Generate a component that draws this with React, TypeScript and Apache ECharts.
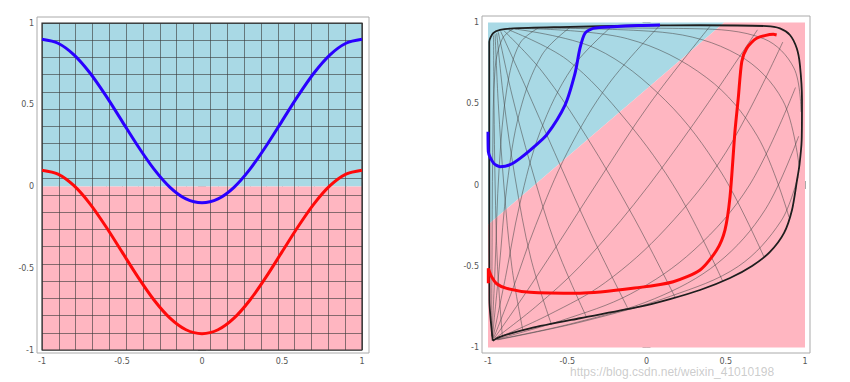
import React, { useEffect, useRef } from "react";
import * as echarts from "echarts";

// ---------- data ----------
const leftX = [-1, -0.9, -0.8, -0.7, -0.6, -0.5, -0.4, -0.3, -0.2, -0.1, 0, 0.1, 0.2, 0.3, 0.4, 0.5, 0.6, 0.7, 0.8, 0.9, 1];
const leftBlueY = [0.9, 0.876, 0.805, 0.694, 0.554, 0.4, 0.246, 0.106, -0.005, -0.076, -0.1, -0.076, -0.005, 0.106, 0.246, 0.4, 0.554, 0.694, 0.805, 0.876, 0.9];
const leftRedY = [0.1, 0.076, 0.005, -0.106, -0.246, -0.4, -0.554, -0.694, -0.805, -0.876, -0.9, -0.876, -0.805, -0.694, -0.554, -0.4, -0.246, -0.106, 0.005, 0.076, 0.1];

const tickValues = [-1, -0.5, 0, 0.5, 1];
const minorTickValues = [-1, -0.9, -0.8, -0.7, -0.6, -0.5, -0.4, -0.3, -0.2, -0.1, 0, 0.1, 0.2, 0.3, 0.4, 0.5, 0.6, 0.7, 0.8, 0.9, 1];
const meshDivisions = 19;

const leftUpperRegion = [[-1, 0], [1, 0], [1, 1], [-1, 1]];
const leftLowerRegion = [[-1, -1], [1, -1], [1, 0], [-1, 0]];
const rightBlueRegion = [[-1, 1], [0.49, 1], [-1, -0.245]];
const rightPinkRegion = [[0.49, 1], [1, 1], [1, -1], [-1, -1], [-1, -0.245]];

const rightBlueCurve = [[-1.0, 0.328], [-0.998, 0.205], [-0.965, 0.135], [-0.924, 0.113], [-0.86, 0.125], [-0.798, 0.164], [-0.71, 0.235], [-0.63, 0.308], [-0.514, 0.492], [-0.451, 0.687], [-0.42, 0.841], [-0.388, 0.934], [-0.336, 0.964], [-0.211, 0.974], [-0.05, 0.982], [0.085, 0.985]];
const rightRedCurve = [[-0.998, -0.605], [-0.998, -0.513], [-0.978, -0.563], [-0.943, -0.609], [-0.882, -0.636], [-0.735, -0.66], [-0.42, -0.666], [-0.041, -0.63], [0.169, -0.595], [0.338, -0.523], [0.443, -0.4], [0.495, -0.277], [0.527, -0.072], [0.558, 0.328], [0.579, 0.534], [0.601, 0.759], [0.632, 0.841], [0.695, 0.903], [0.8, 0.927], [0.821, 0.923]];
const meshBoundary = [[-0.97, -0.958], [-0.991, -0.708], [-0.992, -0.092], [-0.992, 0.523], [-0.992, 0.882], [-0.967, 0.934], [-0.924, 0.954], [-0.84, 0.964], [-0.546, 0.972], [-0.041, 0.982], [0.338, 0.983], [0.758, 0.978], [0.842, 0.964], [0.905, 0.923], [0.948, 0.841], [0.968, 0.738], [0.981, 0.523], [0.979, 0.277], [0.965, 0.123], [0.95, 0.031], [0.918, -0.154], [0.868, -0.295], [0.779, -0.412], [0.666, -0.498], [0.527, -0.572], [0.338, -0.646], [0.148, -0.702], [-0.041, -0.749], [-0.42, -0.82], [-0.735, -0.882], [-0.924, -0.934], [-0.97, -0.958]];

// mesh lines rising from the lower-left corner towards the top / right edges
const meshRisingLines = [
  [[-0.978, -0.93], [-0.975, -0.5], [-0.97, 0.2], [-0.955, 0.72], [-0.91, 0.9], [-0.84, 0.962]],
  [[-0.975, -0.933], [-0.955, -0.5], [-0.93, 0.1], [-0.88, 0.6], [-0.8, 0.87], [-0.68, 0.968]],
  [[-0.972, -0.936], [-0.93, -0.52], [-0.88, 0.0], [-0.8, 0.45], [-0.66, 0.8], [-0.48, 0.972]],
  [[-0.968, -0.939], [-0.89, -0.57], [-0.8, -0.12], [-0.67, 0.33], [-0.47, 0.72], [-0.22, 0.976]],
  [[-0.964, -0.941], [-0.84, -0.63], [-0.7, -0.25], [-0.5, 0.2], [-0.24, 0.62], [0.08, 0.978]],
  [[-0.96, -0.943], [-0.78, -0.69], [-0.57, -0.38], [-0.3, 0.03], [0.02, 0.5], [0.4, 0.976]],
  [[-0.956, -0.945], [-0.7, -0.75], [-0.42, -0.5], [-0.08, -0.12], [0.3, 0.38], [0.7, 0.955]],
  [[-0.952, -0.947], [-0.62, -0.8], [-0.26, -0.6], [0.12, -0.27], [0.5, 0.2], [0.86, 0.88]],
  [[-0.948, -0.949], [-0.54, -0.835], [-0.1, -0.67], [0.3, -0.4], [0.65, 0.0], [0.94, 0.6]],
  [[-0.944, -0.951], [-0.46, -0.85], [0.05, -0.7], [0.45, -0.48], [0.75, -0.15], [0.96, 0.3]],
  [[-0.94, -0.953], [-0.4, -0.84], [0.15, -0.685], [0.58, -0.5], [0.85, -0.22], [0.955, 0.05]],
];
// mesh lines falling from the upper-left corner towards the bottom / right edges
const meshFallingLines = [
  [[-0.965, 0.92], [-0.962, 0.5], [-0.955, 0.0], [-0.94, -0.5], [-0.91, -0.925]],
  [[-0.955, 0.928], [-0.935, 0.5], [-0.9, 0.0], [-0.85, -0.5], [-0.78, -0.895]],
  [[-0.945, 0.935], [-0.9, 0.52], [-0.83, 0.05], [-0.73, -0.45], [-0.6, -0.858]],
  [[-0.935, 0.94], [-0.85, 0.56], [-0.73, 0.12], [-0.57, -0.38], [-0.38, -0.81]],
  [[-0.92, 0.945], [-0.77, 0.62], [-0.58, 0.2], [-0.35, -0.3], [-0.12, -0.755]],
  [[-0.9, 0.95], [-0.66, 0.7], [-0.38, 0.3], [-0.08, -0.2], [0.18, -0.69]],
  [[-0.87, 0.955], [-0.5, 0.77], [-0.13, 0.4], [0.2, -0.05], [0.48, -0.59]],
  [[-0.83, 0.96], [-0.32, 0.84], [0.12, 0.52], [0.47, 0.08], [0.74, -0.44]],
  [[-0.78, 0.963], [-0.12, 0.9], [0.38, 0.66], [0.7, 0.3], [0.9, -0.2]],
  [[-0.72, 0.966], [0.1, 0.94], [0.58, 0.8], [0.86, 0.52], [0.965, 0.1]],
  [[-0.64, 0.968], [0.3, 0.962], [0.74, 0.9], [0.93, 0.72], [0.975, 0.45]],
];

const watermark = "https://blog.csdn.net/weixin_41010198";

// ---------- styles ----------
const LIGHT_BLUE = "#a9d9e5";
const LIGHT_PINK = "#ffb6c1";
const CURVE_BLUE = "#2a00ff";
const CURVE_RED = "#ff0a0a";
const FRAME = "#aaaaaa";
const LABEL = "#555";
const MESH = "rgba(70,70,70,0.6)";

// panel layout in pixels: frame rect + plot rect (where data -1..1 maps)
const panels = [
  { frame: { l: 37, t: 17, r: 369, b: 353 }, plot: { l: 42, t: 23, r: 362, b: 350 } },
  { frame: { l: 482, t: 16, r: 810, b: 353 }, plot: { l: 488, t: 22.5, r: 805, b: 347.5 } },
];

function frameRange(p: any) {
  const sx = (p.plot.r - p.plot.l) / 2;
  const sy = (p.plot.b - p.plot.t) / 2;
  return {
    xmin: -1 - (p.plot.l - p.frame.l) / sx,
    xmax: 1 + (p.frame.r - p.plot.r) / sx,
    ymin: -1 - (p.frame.b - p.plot.b) / sy,
    ymax: 1 + (p.plot.t - p.frame.t) / sy,
  };
}

const fmt = (v: number) => String(v);

function frameAxes(gridIndex: number, min: number, max: number, sides: string[], margin: number) {
  const base = { type: "value", gridIndex, min, max, axisLine: { show: false }, splitLine: { show: false } };
  const lab = { fontSize: 8, color: LABEL, margin, fontFamily: "DejaVu Sans", customValues: tickValues, formatter: fmt };
  const out: any[] = [];
  sides.forEach((side, i) => {
    out.push({ ...base, position: side, axisTick: { show: true, inside: true, length: 4, customValues: tickValues, lineStyle: { color: FRAME } }, axisLabel: i === 0 ? lab : { show: false } });
    out.push({ ...base, position: side, axisTick: { show: true, inside: true, length: 2, customValues: minorTickValues, lineStyle: { color: FRAME } }, axisLabel: { show: false } });
  });
  return out;
}

function regionSeries(points: number[][], color: string, axisIndex: number) {
  return {
    type: "custom",
    xAxisIndex: axisIndex,
    yAxisIndex: axisIndex,
    z: 1,
    silent: true,
    data: [[0, 0]],
    renderItem: (_params: any, api: any) => ({
      type: "polygon",
      shape: { points: points.map((p) => api.coord(p)) },
      style: { fill: color },
    }),
  };
}

function lineSeries(data: number[][], color: string, width: number, axisIndex: number, z: number, smooth: number) {
  return {
    type: "line",
    xAxisIndex: axisIndex,
    yAxisIndex: axisIndex,
    data,
    smooth,
    symbol: "none",
    showSymbol: false,
    silent: true,
    z,
    lineStyle: { color, width },
  };
}

export default function App() {
  const ref = useRef<HTMLDivElement>(null);

  useEffect(() => {
    if (!ref.current) return;
    const chart = echarts.init(ref.current, null, { renderer: "svg" });

    const grids: any[] = [];
    const xAxes: any[] = [];
    const yAxes: any[] = [];
    const plotAxisIndex: number[] = [];

    panels.forEach((p, i) => {
      const fr = frameRange(p);
      const frameGrid = grids.length;
      grids.push({
        left: p.frame.l, top: p.frame.t, width: p.frame.r - p.frame.l, height: p.frame.b - p.frame.t,
        show: true, borderColor: FRAME, borderWidth: 1, backgroundColor: "transparent",
      });
      xAxes.push(...frameAxes(frameGrid, fr.xmin, fr.xmax, ["bottom", "top"], 4));
      yAxes.push(...frameAxes(frameGrid, fr.ymin, fr.ymax, ["left", "right"], 3));

      const plotGrid = grids.length;
      grids.push({
        left: p.plot.l, top: p.plot.t, width: p.plot.r - p.plot.l, height: p.plot.b - p.plot.t,
        show: i === 0, borderColor: "#333", borderWidth: 1.2, backgroundColor: "transparent", z: 4,
      });
      const meshLine = { show: i === 0, lineStyle: { color: "rgba(60,60,60,0.62)", width: 1 } };
      plotAxisIndex.push(xAxes.length);
      xAxes.push({
        type: "value", gridIndex: plotGrid, min: -1, max: 1, interval: 2 / meshDivisions, z: 3,
        axisLine: { show: false }, axisTick: { show: false }, axisLabel: { show: false }, splitLine: meshLine,
      });
      yAxes.push({
        type: "value", gridIndex: plotGrid, min: -1, max: 1, interval: 2 / meshDivisions, z: 3,
        axisLine: { show: false }, axisTick: { show: false }, axisLabel: { show: false }, splitLine: meshLine,
      });
    });

    const L = plotAxisIndex[0];
    const R = plotAxisIndex[1];

    const series: any[] = [
      regionSeries(leftUpperRegion, LIGHT_BLUE, L),
      regionSeries(leftLowerRegion, LIGHT_PINK, L),
      lineSeries(leftX.map((x, i) => [x, leftBlueY[i]]), CURVE_BLUE, 3, L, 10, 0.3),
      lineSeries(leftX.map((x, i) => [x, leftRedY[i]]), CURVE_RED, 3, L, 10, 0.3),

      regionSeries(rightBlueRegion, LIGHT_BLUE, R),
      regionSeries(rightPinkRegion, LIGHT_PINK, R),
      ...meshRisingLines.map((ln) => lineSeries(ln, MESH, 0.9, R, 3, 0.35)),
      ...meshFallingLines.map((ln) => lineSeries(ln, MESH, 0.9, R, 3, 0.35)),
      lineSeries(meshBoundary, "#1e1e1e", 1.8, R, 6, 0.25),
      lineSeries(rightBlueCurve, CURVE_BLUE, 3, R, 10, 0.25),
      lineSeries(rightRedCurve, CURVE_RED, 3, R, 10, 0.25),
    ];

    chart.setOption({
      animation: false,
      backgroundColor: "#ffffff",
      grid: grids,
      xAxis: xAxes,
      yAxis: yAxes,
      series,
      graphic: [
        {
          type: "text",
          left: 570,
          top: 366,
          silent: true,
          style: { text: watermark, fontSize: 12, fill: "rgba(175,175,175,0.65)", fontFamily: "Liberation Sans" },
        },
      ],
    });

    return () => chart.dispose();
  }, []);

  return (
    <div
      ref={ref}
      style={{ position: "fixed", left: 0, top: 0, width: 850, height: 382, background: "#fff" }}
    />
  );
}
